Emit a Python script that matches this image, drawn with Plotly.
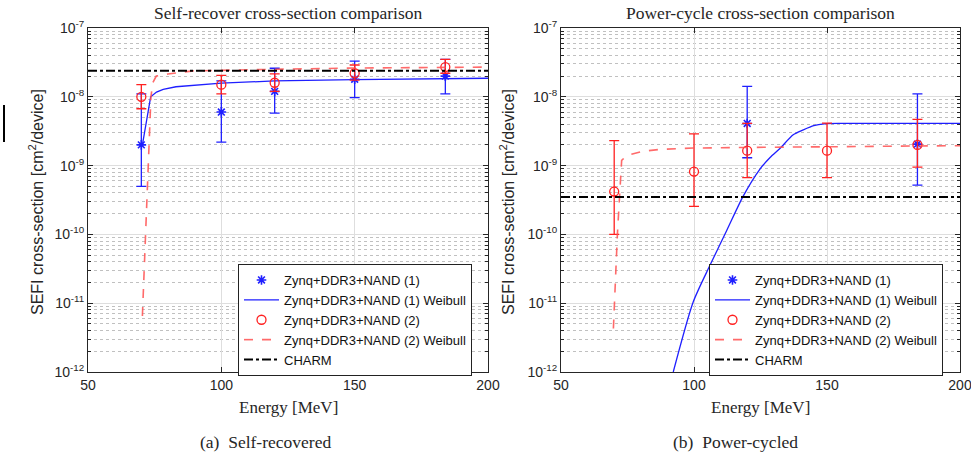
import plotly.graph_objects as go

# ---------------- data ----------------
# (a) self-recovered SEFI cross-sections [cm^2/device] vs proton energy [MeV]
E_points = [70, 100, 120, 150, 184]

sr1 = [2.0e-9, 6.0e-9, 1.2e-8, 1.8e-8, 2.0e-8]
sr1_hi = [1.1e-8, 1.7e-8, 2.6e-8, 3.3e-8, 3.5e-8]
sr1_lo = [5.0e-10, 2.2e-9, 5.8e-9, 9.7e-9, 1.1e-8]

sr2 = [1.0e-8, 1.5e-8, 1.6e-8, 2.2e-8, 2.7e-8]
sr2_hi = [1.5e-8, 2.05e-8, 2.15e-8, 2.9e-8, 3.5e-8]
sr2_lo = [6.7e-9, 1.1e-8, 1.2e-8, 1.75e-8, 2.2e-8]

sr1_fit_E = [70.4, 73.5, 75.7, 78.2, 83, 88.3, 100, 120, 150, 200]
sr1_fit = [2.0e-9, 1.0e-8, 1.17e-8, 1.28e-8, 1.4e-8, 1.46e-8, 1.58e-8,
           1.7e-8, 1.78e-8, 1.86e-8]

sr2_fit_E = [70.4, 71.6, 72.6, 73.6, 74.3, 75.6, 80, 89.5, 117, 150, 200]
sr2_fit = [6.5e-12, 1.0e-10, 1.0e-9, 1.0e-8, 1.6e-8, 2.0e-8, 2.15e-8,
           2.38e-8, 2.5e-8, 2.62e-8, 2.7e-8]

sr_charm = 2.4e-8

# (b) power-cycled SEFI cross-sections
E_pc1 = [120, 184]
pc1 = [4.1e-9, 2.05e-9]
pc1_hi = [1.42e-8, 1.1e-8]
pc1_lo = [1.3e-9, 5.2e-10]

pc2 = [4.2e-10, 8.2e-10, 1.65e-9, 1.65e-9, 2.0e-9]
pc2_hi = [2.3e-9, 2.9e-9, 4.1e-9, 4.15e-9, 4.7e-9]
pc2_lo = [1.0e-10, 2.55e-10, 6.7e-10, 6.7e-10, 9.5e-10]

pc1_fit_E = [92.2, 99.7, 106, 112.3, 118.5, 124.8, 128.6, 132.3, 137.3,
             141.1, 145, 149, 156, 200]
pc1_fit = [1.0e-12, 1.04e-11, 3.55e-11, 1.14e-10, 3.6e-10, 8.9e-10, 1.31e-9,
           1.77e-9, 2.8e-9, 3.3e-9, 3.8e-9, 4.05e-9, 4.1e-9, 4.1e-9]

pc2_fit_E = [69.7, 71.2, 72.8, 74.5, 77.2, 81, 87.2, 99.7, 116, 150, 200]
pc2_fit = [4.3e-12, 1.0e-10, 1.19e-9, 1.38e-9, 1.49e-9, 1.62e-9, 1.72e-9,
           1.8e-9, 1.83e-9, 1.88e-9, 1.95e-9]

pc_charm = 3.5e-10

E_range = [50, 200]
y_tick_vals = [1e-12, 1e-11, 1e-10, 1e-9, 1e-8, 1e-7]
y_tick_text = ["10<sup>-12</sup>", "10<sup>-11</sup>", "10<sup>-10</sup>",
               "10<sup>-9</sup>", "10<sup>-8</sup>", "10<sup>-7</sup>"]
x_tick_vals = [50, 100, 150, 200]

names = ["Zynq+DDR3+NAND (1)", "Zynq+DDR3+NAND (1) Weibull",
         "Zynq+DDR3+NAND (2)", "Zynq+DDR3+NAND (2) Weibull", "CHARM"]

# ---------------- styling ----------------
BLUE = "#1f1fff"
RED = "#ff2020"
RED_FIT = "rgba(255,80,80,0.85)"
SANS = "Liberation Sans, Arial, sans-serif"
SERIF = "Liberation Serif, Times New Roman, serif"
INK = "#262626"

W, H = 971, 453


def px_x(p):
    return p / W


def px_y(p):
    return 1 - p / H


def err(vals, hi, lo):
    return dict(type="data", symmetric=False,
                array=[h - v for v, h in zip(vals, hi)],
                arrayminus=[v - l for v, l in zip(vals, lo)])


fig = go.Figure()


def add_panel(xa, ya, legend, E1, y1, hi1, lo1, fitE1, fit1, shape1,
              y2, hi2, lo2, fitE2, fit2, charm):
    fig.add_trace(go.Scatter(
        x=E1, y=y1, mode="markers", name=names[0], xaxis=xa, yaxis=ya,
        legend=legend,
        marker=dict(symbol="asterisk-open", size=8, color=BLUE,
                    line=dict(color=BLUE, width=1.6)),
        error_y=dict(err(y1, hi1, lo1), color=BLUE, thickness=1.3, width=5)))
    fig.add_trace(go.Scatter(
        x=fitE1, y=fit1, mode="lines", name=names[1], xaxis=xa, yaxis=ya,
        legend=legend,
        line=dict(color=BLUE, width=1.3, shape=shape1, smoothing=0.7)))
    fig.add_trace(go.Scatter(
        x=E_points, y=y2, mode="markers", name=names[2], xaxis=xa, yaxis=ya,
        legend=legend,
        marker=dict(symbol="circle-open", size=9, color=RED,
                    line=dict(color=RED, width=1.3)),
        error_y=dict(err(y2, hi2, lo2), color=RED, thickness=1.3, width=5)))
    fig.add_trace(go.Scatter(
        x=fitE2, y=fit2, mode="lines", name=names[3], xaxis=xa, yaxis=ya,
        legend=legend, line=dict(color=RED_FIT, width=1.6, dash="dash")))
    fig.add_trace(go.Scatter(
        x=E_range, y=[charm, charm], mode="lines", name=names[4],
        xaxis=xa, yaxis=ya, legend=legend,
        line=dict(color="#000000", width=2, dash="dashdot")))


add_panel("x", "y", "legend", E_points, sr1, sr1_hi, sr1_lo,
          sr1_fit_E, sr1_fit, "linear", sr2, sr2_hi, sr2_lo,
          sr2_fit_E, sr2_fit, sr_charm)
add_panel("x2", "y2", "legend2", E_pc1, pc1, pc1_hi, pc1_lo,
          pc1_fit_E, pc1_fit, "spline", pc2, pc2_hi, pc2_lo,
          pc2_fit_E, pc2_fit, pc_charm)


def x_axis(domain, anchor):
    return dict(domain=domain, anchor=anchor, range=E_range, automargin=False,
                tickvals=x_tick_vals, ticks="inside", ticklen=5,
                tickcolor=INK, showline=True, linecolor=INK, linewidth=1,
                mirror="ticks", showgrid=True, gridcolor="#dedede",
                gridwidth=1, zeroline=False, ticklabeloverflow="allow",
                tickfont=dict(family=SANS, size=14, color=INK))


def y_axis(anchor):
    return dict(domain=[px_y(372), px_y(28)], anchor=anchor, type="log",
                automargin=False, ticklabeloverflow="allow",
                range=[-12, -7], tickvals=y_tick_vals, ticktext=y_tick_text,
                ticks="inside", ticklen=5, tickcolor=INK, showline=True,
                linecolor=INK, linewidth=1, mirror="ticks", showgrid=True,
                gridcolor="#dedede", gridwidth=1, zeroline=False,
                tickfont=dict(family=SANS, size=14, color=INK),
                minor=dict(dtick="D1", ticks="inside", ticklen=3,
                           tickcolor=INK, showgrid=True, gridcolor="#c0c0c0",
                           griddash="dot", gridwidth=1))


legend_style = dict(bgcolor="white", bordercolor="#222222", borderwidth=1,
                    font=dict(family=SANS, size=13, color="#111111"),
                    xanchor="left", yanchor="top", itemwidth=35,
                    tracegroupgap=0)

fig.update_layout(
    width=W, height=H, margin=dict(l=0, r=0, t=0, b=0, autoexpand=False),
    paper_bgcolor="white", plot_bgcolor="white",
    xaxis=x_axis([px_x(88), px_x(488)], "y"),
    yaxis=y_axis("x"),
    xaxis2=x_axis([px_x(561), px_x(960)], "y2"),
    yaxis2=y_axis("x2"),
    legend=dict(legend_style, x=px_x(238), y=px_y(264)),
    legend2=dict(legend_style, x=px_x(709), y=px_y(264)),
)

NBSP = "\u00a0"
annotations = [
    ("Self-recover cross-section comparison", 288, 13, SERIF, 17.5, 0),
    ("Power-cycle cross-section comparison", 760, 13, SERIF, 17.5, 0),
    ("Energy [MeV]", 288, 407, SERIF, 17, 0),
    ("Energy [MeV]", 760, 407, SERIF, 17, 0),
    ("(a)" + NBSP + " Self-recovered", 265, 442, SERIF, 17.5, 0),
    ("(b)" + NBSP + " Power-cycled", 735, 442, SERIF, 17.5, 0),
    ("SEFI cross-section [cm<sup>2</sup>/device]", 36, 202, SANS, 16, -90),
    ("SEFI cross-section [cm<sup>2</sup>/device]", 507, 202, SANS, 16, -90),
]
for text, ax, ay, fam, size, ang in annotations:
    fig.add_annotation(text=text, x=px_x(ax), y=px_y(ay), xref="paper",
                       yref="paper", showarrow=False, textangle=ang,
                       xanchor="center", yanchor="middle",
                       font=dict(family=fam, size=size, color=INK))

# thin bracket fragment at the very left edge of the page
fig.add_shape(type="line", xref="paper", yref="paper",
              x0=px_x(4), x1=px_x(4), y0=px_y(105), y1=px_y(142),
              line=dict(color="black", width=2))

fig.write_html("out.html")
